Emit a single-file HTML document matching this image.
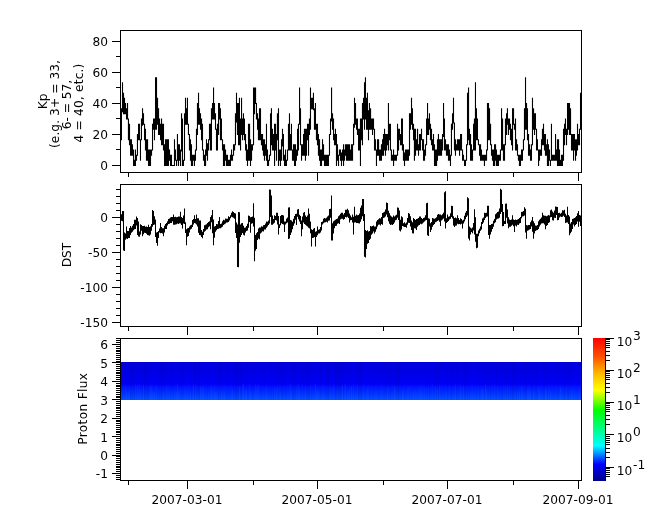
<!DOCTYPE html>
<html lang="en"><head><meta charset="utf-8"><title>Kp, DST, Proton Flux</title>
<style>
html,body{margin:0;padding:0;background:#fff;}
body{width:665px;height:523px;overflow:hidden;}
svg{display:block;}
.tx{opacity:0.999;}
text{font-family:"DejaVu Sans","Liberation Sans",sans-serif;font-size:12.2px;fill:#000;}
.ax{stroke:#000;stroke-width:1;fill:none;shape-rendering:crispEdges;}
.tr{fill:#000;stroke:#000;stroke-width:0.5;stroke-linejoin:round;}
</style></head><body>
<svg width="665" height="523" viewBox="0 0 665 523">
<defs>
<linearGradient id="cb" x1="0" y1="1" x2="0" y2="0">

<stop offset="0.0000" stop-color="rgb(0,0,137)"/>
<stop offset="0.1176" stop-color="rgb(0,0,255)"/>
<stop offset="0.2471" stop-color="rgb(0,255,255)"/>
<stop offset="0.4941" stop-color="rgb(0,255,0)"/>
<stop offset="0.6353" stop-color="rgb(255,255,0)"/>
<stop offset="0.7529" stop-color="rgb(255,185,0)"/>
<stop offset="0.8667" stop-color="rgb(255,84,0)"/>
<stop offset="1.0000" stop-color="rgb(255,0,0)"/>
</linearGradient>
<linearGradient id="sp" x1="0" y1="0" x2="0" y2="1">
<stop offset="0" stop-color="rgb(0,0,222)"/>
<stop offset="0.3" stop-color="rgb(0,0,232)"/>
<stop offset="0.58" stop-color="rgb(0,0,246)"/>
<stop offset="0.66" stop-color="rgb(0,22,255)"/>
<stop offset="0.82" stop-color="rgb(0,48,255)"/>
<stop offset="1" stop-color="rgb(4,80,255)"/>
</linearGradient>
</defs>

<rect x="0" y="0" width="665" height="523" fill="#fff"/>
<rect x="121" y="362" width="460" height="38" fill="url(#sp)"/>
<rect x="121" y="392" width="1" height="8" fill="rgb(40,110,255)" fill-opacity="0.07"/><rect x="122" y="362" width="1" height="38" fill="#000" fill-opacity="0.05"/><rect x="123" y="384" width="1" height="16" fill="rgb(40,110,255)" fill-opacity="0.06"/><rect x="124" y="362" width="1" height="38" fill="#000" fill-opacity="0.02"/><rect x="125" y="384" width="1" height="16" fill="rgb(40,110,255)" fill-opacity="0.08"/><rect x="126" y="391" width="1" height="9" fill="rgb(40,110,255)" fill-opacity="0.15"/><rect x="128" y="392" width="1" height="8" fill="rgb(40,110,255)" fill-opacity="0.12"/><rect x="129" y="389" width="1" height="11" fill="rgb(40,110,255)" fill-opacity="0.10"/><rect x="130" y="362" width="1" height="38" fill="#000" fill-opacity="0.06"/><rect x="131" y="362" width="1" height="38" fill="#000" fill-opacity="0.03"/><rect x="132" y="362" width="1" height="38" fill="#000" fill-opacity="0.04"/><rect x="134" y="362" width="1" height="38" fill="#000" fill-opacity="0.05"/><rect x="135" y="384" width="1" height="16" fill="rgb(40,110,255)" fill-opacity="0.09"/><rect x="137" y="385" width="1" height="15" fill="rgb(40,110,255)" fill-opacity="0.12"/><rect x="139" y="385" width="1" height="15" fill="rgb(40,110,255)" fill-opacity="0.09"/><rect x="140" y="390" width="1" height="10" fill="rgb(40,110,255)" fill-opacity="0.08"/><rect x="142" y="362" width="1" height="38" fill="#000" fill-opacity="0.05"/><rect x="143" y="385" width="1" height="15" fill="rgb(40,110,255)" fill-opacity="0.16"/><rect x="144" y="362" width="1" height="38" fill="#000" fill-opacity="0.07"/><rect x="145" y="362" width="1" height="38" fill="#000" fill-opacity="0.04"/><rect x="147" y="362" width="1" height="38" fill="#000" fill-opacity="0.04"/><rect x="148" y="362" width="1" height="38" fill="#000" fill-opacity="0.05"/><rect x="150" y="387" width="1" height="13" fill="rgb(40,110,255)" fill-opacity="0.16"/><rect x="151" y="385" width="1" height="15" fill="rgb(40,110,255)" fill-opacity="0.09"/><rect x="152" y="391" width="1" height="9" fill="rgb(40,110,255)" fill-opacity="0.10"/><rect x="154" y="392" width="1" height="8" fill="rgb(40,110,255)" fill-opacity="0.13"/><rect x="156" y="385" width="1" height="15" fill="rgb(40,110,255)" fill-opacity="0.12"/><rect x="157" y="362" width="1" height="38" fill="#000" fill-opacity="0.04"/><rect x="159" y="362" width="1" height="38" fill="#000" fill-opacity="0.04"/><rect x="160" y="362" width="1" height="38" fill="#000" fill-opacity="0.03"/><rect x="161" y="362" width="1" height="38" fill="#000" fill-opacity="0.06"/><rect x="162" y="362" width="1" height="38" fill="#000" fill-opacity="0.03"/><rect x="163" y="391" width="1" height="9" fill="rgb(40,110,255)" fill-opacity="0.15"/><rect x="164" y="362" width="1" height="38" fill="#000" fill-opacity="0.04"/><rect x="165" y="362" width="1" height="38" fill="#000" fill-opacity="0.03"/><rect x="166" y="386" width="1" height="14" fill="rgb(40,110,255)" fill-opacity="0.12"/><rect x="169" y="391" width="1" height="9" fill="rgb(40,110,255)" fill-opacity="0.08"/><rect x="170" y="362" width="1" height="38" fill="#000" fill-opacity="0.03"/><rect x="171" y="362" width="1" height="38" fill="#000" fill-opacity="0.04"/><rect x="172" y="392" width="1" height="8" fill="rgb(40,110,255)" fill-opacity="0.08"/><rect x="173" y="362" width="1" height="38" fill="#000" fill-opacity="0.05"/><rect x="174" y="390" width="1" height="10" fill="rgb(40,110,255)" fill-opacity="0.09"/><rect x="176" y="392" width="1" height="8" fill="rgb(40,110,255)" fill-opacity="0.12"/><rect x="177" y="384" width="1" height="16" fill="rgb(40,110,255)" fill-opacity="0.15"/><rect x="178" y="391" width="1" height="9" fill="rgb(40,110,255)" fill-opacity="0.10"/><rect x="179" y="389" width="1" height="11" fill="rgb(40,110,255)" fill-opacity="0.10"/><rect x="180" y="362" width="1" height="38" fill="#000" fill-opacity="0.03"/><rect x="181" y="362" width="1" height="38" fill="#000" fill-opacity="0.04"/><rect x="182" y="362" width="1" height="38" fill="#000" fill-opacity="0.02"/><rect x="183" y="362" width="1" height="38" fill="#000" fill-opacity="0.03"/><rect x="184" y="389" width="1" height="11" fill="rgb(40,110,255)" fill-opacity="0.05"/><rect x="185" y="388" width="1" height="12" fill="rgb(40,110,255)" fill-opacity="0.07"/><rect x="187" y="391" width="1" height="9" fill="rgb(40,110,255)" fill-opacity="0.11"/><rect x="190" y="391" width="1" height="9" fill="rgb(40,110,255)" fill-opacity="0.11"/><rect x="191" y="362" width="1" height="38" fill="#000" fill-opacity="0.06"/><rect x="193" y="384" width="1" height="16" fill="rgb(40,110,255)" fill-opacity="0.13"/><rect x="194" y="362" width="1" height="38" fill="#000" fill-opacity="0.07"/><rect x="195" y="384" width="1" height="16" fill="rgb(40,110,255)" fill-opacity="0.07"/><rect x="198" y="362" width="1" height="38" fill="#000" fill-opacity="0.05"/><rect x="199" y="362" width="1" height="38" fill="#000" fill-opacity="0.06"/><rect x="200" y="387" width="1" height="13" fill="rgb(40,110,255)" fill-opacity="0.16"/><rect x="202" y="387" width="1" height="13" fill="rgb(40,110,255)" fill-opacity="0.14"/><rect x="203" y="389" width="1" height="11" fill="rgb(40,110,255)" fill-opacity="0.12"/><rect x="207" y="362" width="1" height="38" fill="#000" fill-opacity="0.05"/><rect x="208" y="392" width="1" height="8" fill="rgb(40,110,255)" fill-opacity="0.05"/><rect x="210" y="387" width="1" height="13" fill="rgb(40,110,255)" fill-opacity="0.07"/><rect x="211" y="387" width="1" height="13" fill="rgb(40,110,255)" fill-opacity="0.16"/><rect x="213" y="389" width="1" height="11" fill="rgb(40,110,255)" fill-opacity="0.08"/><rect x="214" y="385" width="1" height="15" fill="rgb(40,110,255)" fill-opacity="0.09"/><rect x="215" y="392" width="1" height="8" fill="rgb(40,110,255)" fill-opacity="0.16"/><rect x="216" y="391" width="1" height="9" fill="rgb(40,110,255)" fill-opacity="0.13"/><rect x="218" y="362" width="1" height="38" fill="#000" fill-opacity="0.04"/><rect x="220" y="362" width="1" height="38" fill="#000" fill-opacity="0.06"/><rect x="221" y="391" width="1" height="9" fill="rgb(40,110,255)" fill-opacity="0.13"/><rect x="224" y="391" width="1" height="9" fill="rgb(40,110,255)" fill-opacity="0.10"/><rect x="226" y="362" width="1" height="38" fill="#000" fill-opacity="0.03"/><rect x="227" y="362" width="1" height="38" fill="#000" fill-opacity="0.07"/><rect x="229" y="362" width="1" height="38" fill="#000" fill-opacity="0.06"/><rect x="232" y="390" width="1" height="10" fill="rgb(40,110,255)" fill-opacity="0.12"/><rect x="233" y="362" width="1" height="38" fill="#000" fill-opacity="0.06"/><rect x="235" y="362" width="1" height="38" fill="#000" fill-opacity="0.06"/><rect x="236" y="362" width="1" height="38" fill="#000" fill-opacity="0.07"/><rect x="237" y="362" width="1" height="38" fill="#000" fill-opacity="0.06"/><rect x="238" y="362" width="1" height="38" fill="#000" fill-opacity="0.03"/><rect x="239" y="387" width="1" height="13" fill="rgb(40,110,255)" fill-opacity="0.14"/><rect x="240" y="362" width="1" height="38" fill="#000" fill-opacity="0.04"/><rect x="241" y="362" width="1" height="38" fill="#000" fill-opacity="0.07"/><rect x="242" y="384" width="1" height="16" fill="rgb(40,110,255)" fill-opacity="0.10"/><rect x="243" y="384" width="1" height="16" fill="rgb(40,110,255)" fill-opacity="0.16"/><rect x="244" y="362" width="1" height="38" fill="#000" fill-opacity="0.03"/><rect x="245" y="390" width="1" height="10" fill="rgb(40,110,255)" fill-opacity="0.15"/><rect x="246" y="390" width="1" height="10" fill="rgb(40,110,255)" fill-opacity="0.14"/><rect x="247" y="362" width="1" height="38" fill="#000" fill-opacity="0.04"/><rect x="249" y="384" width="1" height="16" fill="rgb(40,110,255)" fill-opacity="0.09"/><rect x="250" y="391" width="1" height="9" fill="rgb(40,110,255)" fill-opacity="0.11"/><rect x="252" y="362" width="1" height="38" fill="#000" fill-opacity="0.03"/><rect x="253" y="362" width="1" height="38" fill="#000" fill-opacity="0.02"/><rect x="254" y="391" width="1" height="9" fill="rgb(40,110,255)" fill-opacity="0.05"/><rect x="255" y="384" width="1" height="16" fill="rgb(40,110,255)" fill-opacity="0.12"/><rect x="256" y="388" width="1" height="12" fill="rgb(40,110,255)" fill-opacity="0.07"/><rect x="257" y="385" width="1" height="15" fill="rgb(40,110,255)" fill-opacity="0.11"/><rect x="258" y="384" width="1" height="16" fill="rgb(40,110,255)" fill-opacity="0.08"/><rect x="261" y="362" width="1" height="38" fill="#000" fill-opacity="0.05"/><rect x="264" y="362" width="1" height="38" fill="#000" fill-opacity="0.03"/><rect x="265" y="389" width="1" height="11" fill="rgb(40,110,255)" fill-opacity="0.06"/><rect x="266" y="388" width="1" height="12" fill="rgb(40,110,255)" fill-opacity="0.08"/><rect x="269" y="362" width="1" height="38" fill="#000" fill-opacity="0.06"/><rect x="271" y="362" width="1" height="38" fill="#000" fill-opacity="0.06"/><rect x="273" y="362" width="1" height="38" fill="#000" fill-opacity="0.07"/><rect x="274" y="389" width="1" height="11" fill="rgb(40,110,255)" fill-opacity="0.11"/><rect x="275" y="362" width="1" height="38" fill="#000" fill-opacity="0.04"/><rect x="276" y="389" width="1" height="11" fill="rgb(40,110,255)" fill-opacity="0.09"/><rect x="277" y="387" width="1" height="13" fill="rgb(40,110,255)" fill-opacity="0.06"/><rect x="278" y="362" width="1" height="38" fill="#000" fill-opacity="0.05"/><rect x="279" y="387" width="1" height="13" fill="rgb(40,110,255)" fill-opacity="0.05"/><rect x="280" y="391" width="1" height="9" fill="rgb(40,110,255)" fill-opacity="0.09"/><rect x="281" y="362" width="1" height="38" fill="#000" fill-opacity="0.07"/><rect x="282" y="362" width="1" height="38" fill="#000" fill-opacity="0.06"/><rect x="283" y="362" width="1" height="38" fill="#000" fill-opacity="0.03"/><rect x="285" y="362" width="1" height="38" fill="#000" fill-opacity="0.06"/><rect x="290" y="384" width="1" height="16" fill="rgb(40,110,255)" fill-opacity="0.11"/><rect x="291" y="391" width="1" height="9" fill="rgb(40,110,255)" fill-opacity="0.13"/><rect x="292" y="362" width="1" height="38" fill="#000" fill-opacity="0.06"/><rect x="293" y="362" width="1" height="38" fill="#000" fill-opacity="0.06"/><rect x="294" y="362" width="1" height="38" fill="#000" fill-opacity="0.02"/><rect x="295" y="362" width="1" height="38" fill="#000" fill-opacity="0.03"/><rect x="296" y="388" width="1" height="12" fill="rgb(40,110,255)" fill-opacity="0.08"/><rect x="298" y="384" width="1" height="16" fill="rgb(40,110,255)" fill-opacity="0.09"/><rect x="299" y="390" width="1" height="10" fill="rgb(40,110,255)" fill-opacity="0.16"/><rect x="300" y="362" width="1" height="38" fill="#000" fill-opacity="0.06"/><rect x="303" y="362" width="1" height="38" fill="#000" fill-opacity="0.03"/><rect x="305" y="389" width="1" height="11" fill="rgb(40,110,255)" fill-opacity="0.11"/><rect x="306" y="362" width="1" height="38" fill="#000" fill-opacity="0.05"/><rect x="307" y="362" width="1" height="38" fill="#000" fill-opacity="0.04"/><rect x="308" y="362" width="1" height="38" fill="#000" fill-opacity="0.03"/><rect x="309" y="362" width="1" height="38" fill="#000" fill-opacity="0.06"/><rect x="310" y="385" width="1" height="15" fill="rgb(40,110,255)" fill-opacity="0.07"/><rect x="311" y="362" width="1" height="38" fill="#000" fill-opacity="0.04"/><rect x="315" y="384" width="1" height="16" fill="rgb(40,110,255)" fill-opacity="0.16"/><rect x="316" y="389" width="1" height="11" fill="rgb(40,110,255)" fill-opacity="0.08"/><rect x="317" y="390" width="1" height="10" fill="rgb(40,110,255)" fill-opacity="0.15"/><rect x="318" y="392" width="1" height="8" fill="rgb(40,110,255)" fill-opacity="0.09"/><rect x="320" y="362" width="1" height="38" fill="#000" fill-opacity="0.05"/><rect x="322" y="386" width="1" height="14" fill="rgb(40,110,255)" fill-opacity="0.06"/><rect x="325" y="362" width="1" height="38" fill="#000" fill-opacity="0.03"/><rect x="326" y="362" width="1" height="38" fill="#000" fill-opacity="0.04"/><rect x="327" y="362" width="1" height="38" fill="#000" fill-opacity="0.04"/><rect x="328" y="362" width="1" height="38" fill="#000" fill-opacity="0.07"/><rect x="330" y="388" width="1" height="12" fill="rgb(40,110,255)" fill-opacity="0.08"/><rect x="331" y="362" width="1" height="38" fill="#000" fill-opacity="0.03"/><rect x="332" y="388" width="1" height="12" fill="rgb(40,110,255)" fill-opacity="0.06"/><rect x="333" y="384" width="1" height="16" fill="rgb(40,110,255)" fill-opacity="0.07"/><rect x="335" y="362" width="1" height="38" fill="#000" fill-opacity="0.06"/><rect x="336" y="362" width="1" height="38" fill="#000" fill-opacity="0.05"/><rect x="337" y="389" width="1" height="11" fill="rgb(40,110,255)" fill-opacity="0.09"/><rect x="338" y="362" width="1" height="38" fill="#000" fill-opacity="0.07"/><rect x="340" y="362" width="1" height="38" fill="#000" fill-opacity="0.06"/><rect x="342" y="385" width="1" height="15" fill="rgb(40,110,255)" fill-opacity="0.14"/><rect x="343" y="362" width="1" height="38" fill="#000" fill-opacity="0.06"/><rect x="344" y="384" width="1" height="16" fill="rgb(40,110,255)" fill-opacity="0.06"/><rect x="345" y="384" width="1" height="16" fill="rgb(40,110,255)" fill-opacity="0.14"/><rect x="346" y="362" width="1" height="38" fill="#000" fill-opacity="0.05"/><rect x="347" y="392" width="1" height="8" fill="rgb(40,110,255)" fill-opacity="0.15"/><rect x="349" y="389" width="1" height="11" fill="rgb(40,110,255)" fill-opacity="0.16"/><rect x="350" y="362" width="1" height="38" fill="#000" fill-opacity="0.02"/><rect x="351" y="386" width="1" height="14" fill="rgb(40,110,255)" fill-opacity="0.17"/><rect x="353" y="384" width="1" height="16" fill="rgb(40,110,255)" fill-opacity="0.13"/><rect x="355" y="391" width="1" height="9" fill="rgb(40,110,255)" fill-opacity="0.05"/><rect x="357" y="384" width="1" height="16" fill="rgb(40,110,255)" fill-opacity="0.11"/><rect x="358" y="362" width="1" height="38" fill="#000" fill-opacity="0.06"/><rect x="359" y="362" width="1" height="38" fill="#000" fill-opacity="0.02"/><rect x="360" y="362" width="1" height="38" fill="#000" fill-opacity="0.06"/><rect x="361" y="362" width="1" height="38" fill="#000" fill-opacity="0.06"/><rect x="363" y="385" width="1" height="15" fill="rgb(40,110,255)" fill-opacity="0.10"/><rect x="365" y="362" width="1" height="38" fill="#000" fill-opacity="0.02"/><rect x="366" y="390" width="1" height="10" fill="rgb(40,110,255)" fill-opacity="0.07"/><rect x="367" y="388" width="1" height="12" fill="rgb(40,110,255)" fill-opacity="0.13"/><rect x="368" y="385" width="1" height="15" fill="rgb(40,110,255)" fill-opacity="0.07"/><rect x="369" y="362" width="1" height="38" fill="#000" fill-opacity="0.03"/><rect x="373" y="362" width="1" height="38" fill="#000" fill-opacity="0.05"/><rect x="374" y="391" width="1" height="9" fill="rgb(40,110,255)" fill-opacity="0.11"/><rect x="376" y="391" width="1" height="9" fill="rgb(40,110,255)" fill-opacity="0.09"/><rect x="378" y="362" width="1" height="38" fill="#000" fill-opacity="0.04"/><rect x="381" y="389" width="1" height="11" fill="rgb(40,110,255)" fill-opacity="0.08"/><rect x="384" y="362" width="1" height="38" fill="#000" fill-opacity="0.02"/><rect x="386" y="362" width="1" height="38" fill="#000" fill-opacity="0.04"/><rect x="387" y="388" width="1" height="12" fill="rgb(40,110,255)" fill-opacity="0.13"/><rect x="390" y="362" width="1" height="38" fill="#000" fill-opacity="0.06"/><rect x="391" y="392" width="1" height="8" fill="rgb(40,110,255)" fill-opacity="0.05"/><rect x="394" y="386" width="1" height="14" fill="rgb(40,110,255)" fill-opacity="0.14"/><rect x="395" y="387" width="1" height="13" fill="rgb(40,110,255)" fill-opacity="0.09"/><rect x="396" y="362" width="1" height="38" fill="#000" fill-opacity="0.06"/><rect x="398" y="362" width="1" height="38" fill="#000" fill-opacity="0.07"/><rect x="401" y="362" width="1" height="38" fill="#000" fill-opacity="0.04"/><rect x="402" y="391" width="1" height="9" fill="rgb(40,110,255)" fill-opacity="0.17"/><rect x="403" y="388" width="1" height="12" fill="rgb(40,110,255)" fill-opacity="0.10"/><rect x="405" y="362" width="1" height="38" fill="#000" fill-opacity="0.02"/><rect x="407" y="388" width="1" height="12" fill="rgb(40,110,255)" fill-opacity="0.07"/><rect x="408" y="387" width="1" height="13" fill="rgb(40,110,255)" fill-opacity="0.09"/><rect x="410" y="386" width="1" height="14" fill="rgb(40,110,255)" fill-opacity="0.05"/><rect x="413" y="392" width="1" height="8" fill="rgb(40,110,255)" fill-opacity="0.14"/><rect x="415" y="390" width="1" height="10" fill="rgb(40,110,255)" fill-opacity="0.12"/><rect x="416" y="392" width="1" height="8" fill="rgb(40,110,255)" fill-opacity="0.08"/><rect x="418" y="386" width="1" height="14" fill="rgb(40,110,255)" fill-opacity="0.07"/><rect x="419" y="388" width="1" height="12" fill="rgb(40,110,255)" fill-opacity="0.09"/><rect x="420" y="385" width="1" height="15" fill="rgb(40,110,255)" fill-opacity="0.08"/><rect x="421" y="390" width="1" height="10" fill="rgb(40,110,255)" fill-opacity="0.10"/><rect x="422" y="384" width="1" height="16" fill="rgb(40,110,255)" fill-opacity="0.06"/><rect x="424" y="387" width="1" height="13" fill="rgb(40,110,255)" fill-opacity="0.08"/><rect x="426" y="389" width="1" height="11" fill="rgb(40,110,255)" fill-opacity="0.07"/><rect x="427" y="362" width="1" height="38" fill="#000" fill-opacity="0.03"/><rect x="428" y="387" width="1" height="13" fill="rgb(40,110,255)" fill-opacity="0.09"/><rect x="429" y="362" width="1" height="38" fill="#000" fill-opacity="0.05"/><rect x="432" y="384" width="1" height="16" fill="rgb(40,110,255)" fill-opacity="0.10"/><rect x="433" y="362" width="1" height="38" fill="#000" fill-opacity="0.03"/><rect x="435" y="387" width="1" height="13" fill="rgb(40,110,255)" fill-opacity="0.12"/><rect x="436" y="362" width="1" height="38" fill="#000" fill-opacity="0.05"/><rect x="437" y="389" width="1" height="11" fill="rgb(40,110,255)" fill-opacity="0.15"/><rect x="438" y="362" width="1" height="38" fill="#000" fill-opacity="0.06"/><rect x="439" y="386" width="1" height="14" fill="rgb(40,110,255)" fill-opacity="0.13"/><rect x="443" y="362" width="1" height="38" fill="#000" fill-opacity="0.02"/><rect x="446" y="392" width="1" height="8" fill="rgb(40,110,255)" fill-opacity="0.12"/><rect x="447" y="362" width="1" height="38" fill="#000" fill-opacity="0.07"/><rect x="449" y="385" width="1" height="15" fill="rgb(40,110,255)" fill-opacity="0.11"/><rect x="450" y="362" width="1" height="38" fill="#000" fill-opacity="0.03"/><rect x="451" y="362" width="1" height="38" fill="#000" fill-opacity="0.05"/><rect x="455" y="385" width="1" height="15" fill="rgb(40,110,255)" fill-opacity="0.14"/><rect x="456" y="362" width="1" height="38" fill="#000" fill-opacity="0.06"/><rect x="457" y="362" width="1" height="38" fill="#000" fill-opacity="0.03"/><rect x="458" y="388" width="1" height="12" fill="rgb(40,110,255)" fill-opacity="0.05"/><rect x="460" y="386" width="1" height="14" fill="rgb(40,110,255)" fill-opacity="0.11"/><rect x="462" y="362" width="1" height="38" fill="#000" fill-opacity="0.02"/><rect x="463" y="386" width="1" height="14" fill="rgb(40,110,255)" fill-opacity="0.12"/><rect x="464" y="362" width="1" height="38" fill="#000" fill-opacity="0.06"/><rect x="465" y="362" width="1" height="38" fill="#000" fill-opacity="0.05"/><rect x="467" y="362" width="1" height="38" fill="#000" fill-opacity="0.04"/><rect x="469" y="362" width="1" height="38" fill="#000" fill-opacity="0.05"/><rect x="470" y="386" width="1" height="14" fill="rgb(40,110,255)" fill-opacity="0.05"/><rect x="472" y="385" width="1" height="15" fill="rgb(40,110,255)" fill-opacity="0.05"/><rect x="474" y="389" width="1" height="11" fill="rgb(40,110,255)" fill-opacity="0.06"/><rect x="477" y="362" width="1" height="38" fill="#000" fill-opacity="0.02"/><rect x="478" y="386" width="1" height="14" fill="rgb(40,110,255)" fill-opacity="0.10"/><rect x="479" y="362" width="1" height="38" fill="#000" fill-opacity="0.06"/><rect x="481" y="389" width="1" height="11" fill="rgb(40,110,255)" fill-opacity="0.07"/><rect x="482" y="389" width="1" height="11" fill="rgb(40,110,255)" fill-opacity="0.15"/><rect x="483" y="388" width="1" height="12" fill="rgb(40,110,255)" fill-opacity="0.08"/><rect x="484" y="362" width="1" height="38" fill="#000" fill-opacity="0.05"/><rect x="485" y="385" width="1" height="15" fill="rgb(40,110,255)" fill-opacity="0.16"/><rect x="486" y="390" width="1" height="10" fill="rgb(40,110,255)" fill-opacity="0.13"/><rect x="488" y="362" width="1" height="38" fill="#000" fill-opacity="0.02"/><rect x="489" y="392" width="1" height="8" fill="rgb(40,110,255)" fill-opacity="0.10"/><rect x="490" y="362" width="1" height="38" fill="#000" fill-opacity="0.04"/><rect x="492" y="391" width="1" height="9" fill="rgb(40,110,255)" fill-opacity="0.06"/><rect x="494" y="384" width="1" height="16" fill="rgb(40,110,255)" fill-opacity="0.07"/><rect x="496" y="362" width="1" height="38" fill="#000" fill-opacity="0.05"/><rect x="497" y="387" width="1" height="13" fill="rgb(40,110,255)" fill-opacity="0.09"/><rect x="498" y="391" width="1" height="9" fill="rgb(40,110,255)" fill-opacity="0.06"/><rect x="499" y="362" width="1" height="38" fill="#000" fill-opacity="0.04"/><rect x="501" y="362" width="1" height="38" fill="#000" fill-opacity="0.07"/><rect x="502" y="362" width="1" height="38" fill="#000" fill-opacity="0.04"/><rect x="505" y="385" width="1" height="15" fill="rgb(40,110,255)" fill-opacity="0.06"/><rect x="506" y="362" width="1" height="38" fill="#000" fill-opacity="0.05"/><rect x="507" y="385" width="1" height="15" fill="rgb(40,110,255)" fill-opacity="0.09"/><rect x="508" y="362" width="1" height="38" fill="#000" fill-opacity="0.04"/><rect x="511" y="362" width="1" height="38" fill="#000" fill-opacity="0.02"/><rect x="512" y="362" width="1" height="38" fill="#000" fill-opacity="0.07"/><rect x="513" y="362" width="1" height="38" fill="#000" fill-opacity="0.06"/><rect x="515" y="392" width="1" height="8" fill="rgb(40,110,255)" fill-opacity="0.08"/><rect x="516" y="362" width="1" height="38" fill="#000" fill-opacity="0.06"/><rect x="517" y="392" width="1" height="8" fill="rgb(40,110,255)" fill-opacity="0.08"/><rect x="519" y="391" width="1" height="9" fill="rgb(40,110,255)" fill-opacity="0.15"/><rect x="520" y="362" width="1" height="38" fill="#000" fill-opacity="0.03"/><rect x="521" y="386" width="1" height="14" fill="rgb(40,110,255)" fill-opacity="0.16"/><rect x="525" y="362" width="1" height="38" fill="#000" fill-opacity="0.04"/><rect x="526" y="362" width="1" height="38" fill="#000" fill-opacity="0.07"/><rect x="527" y="390" width="1" height="10" fill="rgb(40,110,255)" fill-opacity="0.13"/><rect x="528" y="387" width="1" height="13" fill="rgb(40,110,255)" fill-opacity="0.09"/><rect x="529" y="391" width="1" height="9" fill="rgb(40,110,255)" fill-opacity="0.14"/><rect x="530" y="390" width="1" height="10" fill="rgb(40,110,255)" fill-opacity="0.10"/><rect x="531" y="362" width="1" height="38" fill="#000" fill-opacity="0.02"/><rect x="532" y="362" width="1" height="38" fill="#000" fill-opacity="0.05"/><rect x="533" y="391" width="1" height="9" fill="rgb(40,110,255)" fill-opacity="0.17"/><rect x="535" y="362" width="1" height="38" fill="#000" fill-opacity="0.02"/><rect x="536" y="362" width="1" height="38" fill="#000" fill-opacity="0.04"/><rect x="538" y="386" width="1" height="14" fill="rgb(40,110,255)" fill-opacity="0.08"/><rect x="539" y="389" width="1" height="11" fill="rgb(40,110,255)" fill-opacity="0.16"/><rect x="543" y="362" width="1" height="38" fill="#000" fill-opacity="0.06"/><rect x="544" y="362" width="1" height="38" fill="#000" fill-opacity="0.05"/><rect x="545" y="389" width="1" height="11" fill="rgb(40,110,255)" fill-opacity="0.14"/><rect x="546" y="389" width="1" height="11" fill="rgb(40,110,255)" fill-opacity="0.07"/><rect x="547" y="362" width="1" height="38" fill="#000" fill-opacity="0.06"/><rect x="548" y="386" width="1" height="14" fill="rgb(40,110,255)" fill-opacity="0.09"/><rect x="549" y="362" width="1" height="38" fill="#000" fill-opacity="0.03"/><rect x="550" y="391" width="1" height="9" fill="rgb(40,110,255)" fill-opacity="0.13"/><rect x="553" y="362" width="1" height="38" fill="#000" fill-opacity="0.04"/><rect x="557" y="362" width="1" height="38" fill="#000" fill-opacity="0.03"/><rect x="558" y="362" width="1" height="38" fill="#000" fill-opacity="0.03"/><rect x="560" y="387" width="1" height="13" fill="rgb(40,110,255)" fill-opacity="0.16"/><rect x="561" y="388" width="1" height="12" fill="rgb(40,110,255)" fill-opacity="0.07"/><rect x="564" y="362" width="1" height="38" fill="#000" fill-opacity="0.05"/><rect x="566" y="387" width="1" height="13" fill="rgb(40,110,255)" fill-opacity="0.05"/><rect x="567" y="362" width="1" height="38" fill="#000" fill-opacity="0.03"/><rect x="568" y="362" width="1" height="38" fill="#000" fill-opacity="0.05"/><rect x="570" y="362" width="1" height="38" fill="#000" fill-opacity="0.02"/><rect x="571" y="390" width="1" height="10" fill="rgb(40,110,255)" fill-opacity="0.13"/><rect x="572" y="392" width="1" height="8" fill="rgb(40,110,255)" fill-opacity="0.06"/><rect x="574" y="391" width="1" height="9" fill="rgb(40,110,255)" fill-opacity="0.06"/><rect x="577" y="362" width="1" height="38" fill="#000" fill-opacity="0.05"/><rect x="579" y="388" width="1" height="12" fill="rgb(40,110,255)" fill-opacity="0.08"/>
<path d="M121.44 108.2V140.2M122.50 82.3V112.3M123.51 92.7V114.3M124.51 97.8V114.3M125.56 103.0V114.3M126.52 108.2V119.5M127.54 103.0V119.5M128.45 118.5V140.2M129.51 123.7V145.3M130.53 139.2V155.7M131.45 139.2V155.7M132.45 144.3V155.7M133.53 149.5V166.0M134.55 159.8V166.0M135.45 149.5V166.0M136.52 154.7V160.8M137.46 134.0V155.7M138.53 123.7V140.2M139.52 123.7V140.2M140.47 139.2V160.8M141.47 118.5V140.2M142.53 108.2V125.7M143.50 113.3V124.7M144.53 123.7V140.2M145.49 128.8V150.5M146.48 139.2V160.8M147.56 139.2V160.8M148.52 149.5V166.0M149.50 149.5V166.0M150.50 149.5V166.0M151.53 149.5V155.7M152.52 123.7V150.5M153.55 118.5V129.8M154.49 118.5V140.2M155.54 77.2V129.8M156.52 77.2V129.8M157.54 97.8V124.7M158.54 108.2V135.0M159.54 118.5V135.0M160.55 123.7V140.2M161.55 118.5V145.3M162.52 123.7V145.3M163.50 123.7V150.5M164.53 144.3V166.0M165.54 139.2V166.0M166.49 139.2V166.0M167.49 139.2V166.0M168.46 139.2V166.0M169.53 149.5V160.8M170.56 154.7V166.0M171.49 154.7V166.0M172.46 165.0V166.0M173.46 165.0V166.0M174.49 139.2V166.0M175.48 149.5V160.8M176.56 159.8V166.0M177.45 134.0V160.8M178.48 144.3V166.0M179.45 144.3V160.8M180.52 149.5V166.0M181.53 113.3V151.5M182.46 118.5V166.0M183.45 159.8V166.0M184.50 113.3V160.8M185.51 97.8V124.7M186.55 108.2V124.7M187.44 97.8V124.7M188.45 123.7V135.0M189.46 134.0V150.5M190.47 139.2V160.8M191.47 144.3V166.0M192.53 154.7V166.0M193.51 154.7V160.8M194.47 154.7V166.0M195.46 149.5V160.8M196.47 128.8V150.5M197.46 103.0V135.0M198.53 92.7V124.7M199.48 108.2V124.7M200.51 113.3V129.8M201.54 118.5V140.2M202.50 123.7V150.5M203.47 149.5V160.8M204.55 154.7V166.0M205.55 149.5V166.0M206.48 139.2V155.7M207.51 143.3V160.8M208.55 139.2V150.5M209.50 123.7V140.2M210.47 123.7V150.5M211.45 108.2V150.5M212.55 103.0V119.5M213.54 87.5V119.5M214.49 103.0V119.5M215.50 113.3V129.8M216.50 128.8V150.5M217.47 123.7V150.5M218.56 103.0V135.0M219.52 103.0V119.5M220.47 108.2V140.2M221.44 118.5V140.2M222.50 139.2V150.5M223.48 144.3V166.0M224.54 144.3V166.0M225.53 149.5V160.8M226.51 154.7V166.0M227.46 154.7V166.0M228.46 159.8V166.0M229.48 159.8V166.0M230.47 154.7V166.0M231.54 149.5V160.8M232.50 154.7V160.8M233.52 144.3V155.7M234.56 144.3V150.5M235.47 113.3V145.3M236.50 92.7V122.6M237.46 103.0V135.0M238.53 103.0V145.3M239.44 97.8V145.3M240.54 118.5V150.5M241.54 97.8V135.0M242.54 118.5V140.2M243.45 113.3V135.0M244.47 118.5V140.2M245.53 134.0V150.5M246.45 144.3V160.8M247.50 149.5V166.0M248.50 123.7V160.8M249.55 123.7V160.8M250.51 139.2V166.0M251.54 144.3V160.8M252.48 144.3V150.5M253.53 87.5V145.3M254.49 87.5V114.3M255.55 87.5V104.0M256.45 103.0V119.5M257.54 113.3V129.8M258.47 118.5V140.2M259.51 108.2V140.2M260.50 108.2V140.2M261.46 134.0V145.3M262.54 134.0V150.5M263.48 139.2V155.7M264.48 139.2V160.8M265.45 144.3V155.7M266.48 123.7V160.8M267.50 149.5V166.0M268.53 159.8V166.0M269.48 154.7V160.8M270.52 113.3V155.7M271.45 108.2V145.3M272.49 128.8V150.5M273.50 134.0V150.5M274.56 123.7V166.0M275.54 123.7V150.5M276.52 134.0V160.8M277.44 113.3V140.2M278.49 108.2V166.0M279.53 149.5V160.8M280.47 149.5V166.0M281.51 139.2V160.8M282.49 128.8V146.4M283.44 134.0V160.8M284.56 154.7V166.0M285.54 149.5V166.0M286.46 159.8V166.0M287.51 149.5V160.8M288.47 123.7V150.5M289.49 113.3V150.5M290.50 134.0V150.5M291.48 123.7V150.5M292.48 149.5V160.8M293.49 144.3V160.8M294.52 144.3V166.0M295.47 144.3V166.0M296.46 149.5V160.8M297.53 128.8V155.7M298.48 123.7V150.5M299.55 87.5V124.7M300.51 108.2V145.3M301.53 144.3V160.8M302.48 144.3V155.7M303.54 134.0V155.7M304.45 128.8V155.7M305.46 128.8V160.8M306.45 128.8V155.7M307.52 123.7V140.2M308.52 123.7V155.7M309.46 118.5V135.0M310.49 87.5V129.8M311.54 97.8V109.2M312.51 97.8V109.2M313.45 92.7V110.2M314.47 108.2V129.8M315.46 103.0V129.8M316.45 123.7V140.2M317.49 123.7V145.3M318.45 134.0V155.7M319.55 139.2V160.8M320.49 149.5V166.0M321.50 149.5V166.0M322.52 139.2V160.8M323.53 144.3V160.8M324.54 154.7V166.0M325.49 154.7V166.0M326.48 154.7V166.0M327.49 154.7V166.0M328.44 154.7V166.0M329.49 134.0V155.7M330.52 118.5V135.0M331.56 87.5V121.6M332.53 113.3V129.8M333.52 118.5V140.2M334.51 134.0V145.3M335.44 128.8V145.3M336.48 134.0V166.0M337.48 144.3V160.8M338.52 154.7V166.0M339.45 149.5V155.7M340.49 149.5V160.8M341.50 152.6V166.0M342.53 149.5V160.8M343.54 144.3V166.0M344.51 149.5V160.8M345.46 144.3V155.7M346.53 144.3V160.8M347.55 144.3V160.8M348.51 144.3V160.8M349.48 144.3V160.8M350.50 149.5V160.8M351.46 144.3V160.8M352.53 144.3V160.8M353.56 123.7V145.3M354.50 97.8V127.8M355.53 103.0V124.7M356.54 118.5V129.8M357.46 118.5V135.0M358.55 128.8V150.5M359.52 128.8V150.5M360.46 118.5V166.0M361.45 118.5V140.2M362.47 103.0V145.3M363.51 97.8V119.5M364.52 82.3V129.8M365.48 77.2V119.5M366.55 97.8V129.8M367.48 92.7V129.8M368.50 110.2V140.2M369.45 103.0V129.8M370.56 108.2V129.8M371.46 118.5V129.8M372.55 118.5V135.0M373.51 118.5V129.8M374.51 128.8V150.5M375.51 139.2V150.5M376.47 149.5V166.0M377.55 139.2V155.7M378.56 139.2V155.7M379.54 149.5V160.8M380.51 149.5V160.8M381.45 144.3V160.8M382.54 139.2V155.7M383.47 134.0V155.7M384.55 128.8V150.5M385.47 134.0V155.7M386.51 134.0V150.5M387.54 134.0V145.3M388.46 103.0V150.5M389.51 123.7V140.2M390.45 123.7V150.5M391.44 149.5V160.8M392.46 154.7V160.8M393.56 149.5V166.0M394.55 154.7V160.8M395.52 154.7V160.8M396.48 154.7V160.8M397.52 123.7V155.7M398.53 128.8V150.5M399.49 128.8V140.2M400.51 134.0V145.3M401.54 118.5V145.3M402.44 118.5V150.5M403.46 144.3V160.8M404.50 152.6V166.0M405.46 149.5V160.8M406.49 149.5V160.8M407.51 149.5V160.8M408.46 149.5V160.8M409.50 113.3V155.7M410.47 113.3V129.8M411.51 97.8V124.7M412.48 108.2V129.8M413.52 123.7V140.2M414.44 128.8V160.8M415.52 128.8V155.7M416.46 139.2V150.5M417.56 128.8V150.5M418.51 144.3V155.7M419.50 134.0V150.5M420.49 134.0V150.5M421.51 128.8V140.2M422.52 139.2V150.5M423.53 139.2V160.8M424.53 149.5V160.8M425.50 144.3V155.7M426.56 118.5V145.3M427.54 103.0V135.0M428.54 118.5V135.0M429.49 113.3V129.8M430.49 123.7V140.2M431.51 128.8V145.3M432.55 139.2V150.5M433.50 134.0V150.5M434.50 144.3V166.0M435.49 149.5V166.0M436.55 149.5V166.0M437.48 139.2V160.8M438.45 134.0V155.7M439.53 139.2V155.7M440.55 139.2V155.7M441.53 139.2V155.7M442.51 134.0V150.5M443.53 103.0V137.1M444.48 118.5V150.5M445.51 139.2V150.5M446.45 144.3V155.7M447.45 144.3V155.7M448.49 144.3V160.8M449.50 149.5V160.8M450.49 154.7V166.0M451.45 123.7V155.7M452.52 113.3V129.8M453.50 97.8V123.6M454.47 122.6V150.5M455.48 139.2V155.7M456.49 144.3V150.5M457.47 139.2V150.5M458.45 139.2V150.5M459.55 139.2V155.7M460.56 134.0V150.5M461.52 134.0V150.5M462.54 149.5V160.8M463.49 154.7V160.8M464.54 159.8V166.0M465.47 159.8V166.0M466.53 144.3V160.8M467.51 92.7V145.3M468.55 87.5V140.2M469.45 128.8V145.3M470.54 134.0V160.8M471.45 144.3V160.8M472.50 149.5V160.8M473.55 123.7V150.5M474.44 118.5V150.5M475.47 82.3V150.5M476.48 108.2V140.2M477.48 118.5V140.2M478.45 139.2V145.3M479.55 144.3V155.7M480.54 144.3V160.8M481.49 149.5V160.8M482.48 154.7V160.8M483.51 154.7V160.8M484.45 154.7V166.0M485.44 154.7V160.8M486.55 149.5V160.8M487.48 103.0V150.5M488.50 103.0V140.2M489.55 108.2V140.2M490.56 123.7V145.3M491.50 144.3V155.7M492.46 149.5V160.8M493.48 149.5V166.0M494.55 144.3V166.0M495.55 144.3V160.8M496.46 149.5V166.0M497.54 154.7V166.0M498.48 154.7V166.0M499.50 154.7V160.8M500.46 149.5V160.8M501.55 108.2V150.5M502.56 118.5V150.5M503.46 144.3V160.8M504.52 144.3V160.8M505.46 118.5V145.3M506.55 113.3V135.0M507.45 108.2V124.7M508.45 118.5V135.0M509.53 118.5V129.8M510.48 123.7V140.2M511.55 128.8V145.3M512.54 108.2V150.5M513.53 108.2V124.7M514.46 123.7V129.8M515.52 118.5V150.5M516.55 139.2V150.5M517.49 144.3V155.7M518.45 154.7V160.8M519.47 154.7V166.0M520.48 154.7V166.0M521.53 149.5V160.8M522.46 149.5V160.8M523.46 139.2V150.5M524.47 108.2V140.2M525.52 77.2V129.8M526.53 103.0V129.8M527.48 108.2V140.2M528.52 134.0V155.7M529.55 144.3V155.7M530.51 149.5V160.8M531.47 144.3V160.8M532.48 97.8V145.3M533.55 108.2V129.8M534.52 113.3V135.0M535.47 113.3V129.8M536.52 128.8V150.5M537.45 139.2V150.5M538.56 149.5V166.0M539.49 149.5V160.8M540.50 149.5V155.7M541.50 139.2V155.7M542.45 128.8V145.3M543.51 123.7V145.3M544.47 134.0V150.5M545.47 134.0V155.7M546.54 144.3V155.7M547.45 139.2V166.0M548.47 144.3V166.0M549.53 149.5V160.8M550.47 159.8V166.0M551.47 123.7V160.8M552.51 154.7V160.8M553.46 154.7V160.8M554.55 154.7V160.8M555.56 134.0V160.8M556.44 149.5V160.8M557.50 139.2V166.0M558.53 139.2V166.0M559.49 149.5V166.0M560.55 159.8V166.0M561.50 154.7V166.0M562.46 154.7V166.0M563.51 128.8V160.8M564.52 123.7V145.3M565.48 118.5V135.0M566.52 128.8V145.3M567.53 103.0V135.0M568.50 103.0V129.8M569.50 103.0V135.0M570.54 108.2V135.0M571.52 134.0V150.5M572.50 134.0V150.5M573.55 134.0V160.8M574.46 134.0V150.5M575.53 139.2V160.8M576.46 139.2V155.7M577.51 123.7V150.5M578.47 134.0V145.3M579.49 128.8V145.3M580.53 92.7V129.8" fill="none" stroke="#000" stroke-width="1.1"/>
<path d="M121.5 214.3V220.7M122.5 211.1V221.3M123.5 211.0V250.6M124.5 232.5V251.1M125.5 233.6V239.7M126.5 226.5V238.6M127.5 230.9V239.1M128.5 231.1V238.1M129.5 228.0V237.9M130.5 225.9V235.0M131.5 227.6V232.7M132.5 225.8V231.8M133.5 224.1V230.3M134.5 219.7V229.3M135.5 219.8V229.1M136.5 216.4V225.6M137.5 218.0V235.0M138.5 221.6V236.4M139.5 231.6V236.8M140.5 224.2V234.5M141.5 225.0V230.8M142.5 226.0V236.2M143.5 226.0V234.3M144.5 225.8V232.7M145.5 226.8V232.9M146.5 226.5V233.7M147.5 226.9V235.0M148.5 224.7V235.2M149.5 227.0V235.8M150.5 226.2V234.5M151.5 224.0V230.7M152.5 210.1V226.7M153.5 211.1V225.0M154.5 216.2V224.6M155.5 219.4V237.0M156.5 232.5V242.9M157.5 231.9V245.7M158.5 231.0V237.9M159.5 228.4V232.5M160.5 223.0V233.2M161.5 226.9V233.0M162.5 228.3V233.5M163.5 228.2V236.2M164.5 225.7V232.6M165.5 223.9V229.0M166.5 223.1V228.9M167.5 221.2V225.6M168.5 219.1V223.9M169.5 218.5V223.8M170.5 217.4V223.1M171.5 217.1V223.1M172.5 217.0V221.2M173.5 214.4V224.8M174.5 217.1V224.7M175.5 216.8V224.5M176.5 217.3V224.3M177.5 217.1V223.6M178.5 216.6V224.1M179.5 216.4V223.2M180.5 211.8V223.6M181.5 217.1V224.9M182.5 217.9V228.5M183.5 215.6V223.4M184.5 208.4V224.1M185.5 222.3V233.1M186.5 229.2V245.3M187.5 228.3V236.7M188.5 227.9V235.9M189.5 226.6V232.4M190.5 225.3V229.6M191.5 224.8V228.7M192.5 219.9V227.1M193.5 218.9V224.6M194.5 215.3V223.0M195.5 219.0V223.4M196.5 214.4V224.4M197.5 218.3V226.6M198.5 218.2V232.7M199.5 220.6V234.9M200.5 220.5V235.3M201.5 229.9V237.1M202.5 231.7V238.3M203.5 229.0V235.0M204.5 225.3V231.8M205.5 224.7V230.7M206.5 224.2V229.4M207.5 222.9V229.3M208.5 222.0V227.3M209.5 221.3V226.2M210.5 217.1V229.3M211.5 215.2V222.3M212.5 210.1V233.2M213.5 219.5V245.3M214.5 226.5V237.8M215.5 226.0V231.7M216.5 224.1V230.2M217.5 224.2V229.0M218.5 221.1V228.7M219.5 217.0V228.3M220.5 224.0V228.2M221.5 223.6V227.6M222.5 221.3V226.7M223.5 219.8V224.9M224.5 220.3V224.2M225.5 218.4V223.4M226.5 218.8V222.5M227.5 218.7V222.4M228.5 216.3V221.9M229.5 216.9V220.4M230.5 215.2V218.2M231.5 212.7V216.7M232.5 211.2V217.2M233.5 212.0V217.7M234.5 212.9V218.8M235.5 213.6V233.1M236.5 222.6V238.0M237.5 224.6V266.9M238.5 212.1V267.2M239.5 212.3V242.7M240.5 224.4V236.9M241.5 223.2V234.9M242.5 223.1V232.9M243.5 225.7V234.7M244.5 227.7V235.5M245.5 227.6V232.6M246.5 226.1V230.9M247.5 223.8V230.6M248.5 215.5V227.7M249.5 216.0V222.1M250.5 217.3V232.8M251.5 216.9V223.7M252.5 216.4V223.3M253.5 203.2V226.6M254.5 217.7V261.2M255.5 235.0V250.7M256.5 233.2V248.9M257.5 232.1V240.0M258.5 228.5V238.4M259.5 227.6V239.2M260.5 227.6V233.4M261.5 226.3V232.4M262.5 226.8V231.3M263.5 225.2V231.5M264.5 225.1V229.6M265.5 223.4V229.6M266.5 221.5V227.7M267.5 221.8V226.4M268.5 220.5V224.9M269.5 189.5V223.5M270.5 189.8V217.0M271.5 195.6V224.7M272.5 215.6V224.8M273.5 219.0V223.8M274.5 215.2V222.7M275.5 216.1V220.0M276.5 212.7V220.6M277.5 212.8V224.6M278.5 215.9V234.5M279.5 224.3V228.1M280.5 215.9V225.3M281.5 214.9V223.3M282.5 215.1V224.1M283.5 215.6V224.5M284.5 221.5V231.9M285.5 221.5V224.4M286.5 218.7V223.2M287.5 217.5V222.6M288.5 207.5V238.9M289.5 207.3V238.5M290.5 220.0V234.9M291.5 220.6V232.5M292.5 221.7V229.2M293.5 218.8V225.7M294.5 216.1V223.6M295.5 213.9V219.8M296.5 213.8V225.0M297.5 209.4V216.7M298.5 209.1V219.2M299.5 214.8V221.4M300.5 216.0V224.0M301.5 220.5V236.2M302.5 216.4V229.2M303.5 212.8V222.5M304.5 211.9V224.1M305.5 215.6V224.7M306.5 217.0V225.8M307.5 215.4V226.5M308.5 208.4V227.7M309.5 213.8V228.5M310.5 221.5V233.3M311.5 229.3V246.5M312.5 230.1V238.0M313.5 228.7V237.7M314.5 228.1V237.0M315.5 231.8V246.5M316.5 231.2V237.0M317.5 226.5V235.3M318.5 229.7V233.6M319.5 229.2V233.5M320.5 227.0V232.4M321.5 222.0V230.4M322.5 221.6V224.6M323.5 218.8V223.3M324.5 218.0V222.5M325.5 218.5V222.2M326.5 217.7V221.7M327.5 216.5V222.6M328.5 215.6V220.7M329.5 209.0V220.5M330.5 208.7V217.7M331.5 195.5V240.5M332.5 223.2V240.5M333.5 221.2V233.5M334.5 220.4V228.3M335.5 219.7V226.0M336.5 219.0V225.7M337.5 218.4V223.8M338.5 216.2V223.3M339.5 215.3V224.1M340.5 213.7V219.6M341.5 212.7V218.7M342.5 212.8V218.7M343.5 214.4V219.7M344.5 212.9V219.1M345.5 209.7V217.0M346.5 209.7V217.4M347.5 208.8V216.8M348.5 210.3V218.0M349.5 213.5V222.4M350.5 215.4V220.2M351.5 217.2V220.1M352.5 214.4V222.6M353.5 216.8V234.5M354.5 206.7V222.4M355.5 215.8V222.3M356.5 214.5V223.0M357.5 215.3V223.1M358.5 215.0V223.2M359.5 213.6V223.6M360.5 207.7V221.7M361.5 205.5V219.3M362.5 199.0V216.2M363.5 199.1V221.1M364.5 214.0V256.7M365.5 230.1V257.4M366.5 231.1V248.9M367.5 230.3V243.7M368.5 231.4V243.0M369.5 231.0V240.1M370.5 225.9V238.8M371.5 226.4V234.8M372.5 225.9V233.5M373.5 225.5V231.5M374.5 226.4V233.6M375.5 226.5V231.7M376.5 221.5V229.3M377.5 219.9V226.6M378.5 219.2V224.7M379.5 218.3V224.6M380.5 218.4V225.5M381.5 217.0V224.1M382.5 212.9V224.7M383.5 212.6V217.9M384.5 211.8V217.6M385.5 209.6V216.4M386.5 202.4V214.6M387.5 202.9V217.2M388.5 210.8V221.2M389.5 213.3V223.7M390.5 215.4V224.9M391.5 216.4V224.4M392.5 217.3V224.9M393.5 215.6V224.1M394.5 216.6V222.4M395.5 215.6V220.2M396.5 214.8V219.8M397.5 207.6V217.8M398.5 207.8V220.1M399.5 210.6V230.4M400.5 219.7V231.5M401.5 216.3V229.5M402.5 217.2V226.0M403.5 223.2V226.5M404.5 222.2V226.9M405.5 223.6V226.9M406.5 222.6V227.7M407.5 217.9V224.8M408.5 213.1V222.7M409.5 213.7V223.0M410.5 216.3V226.4M411.5 220.5V230.1M412.5 222.3V233.2M413.5 218.0V233.5M414.5 219.0V228.3M415.5 220.1V228.6M416.5 219.0V230.1M417.5 218.7V226.7M418.5 218.1V225.5M419.5 216.6V224.9M420.5 216.6V223.8M421.5 217.9V224.3M422.5 218.9V223.4M423.5 217.9V222.6M424.5 217.5V221.4M425.5 215.2V220.4M426.5 203.2V219.9M427.5 202.7V235.2M428.5 218.3V236.0M429.5 218.8V226.5M430.5 223.3V231.9M431.5 222.1V229.8M432.5 217.9V226.7M433.5 218.5V225.0M434.5 218.8V224.0M435.5 218.3V222.3M436.5 217.3V221.7M437.5 214.7V221.1M438.5 214.0V220.3M439.5 214.4V221.7M440.5 214.6V225.9M441.5 215.3V220.6M442.5 214.2V219.6M443.5 212.7V218.4M444.5 192.3V221.5M445.5 191.3V228.5M446.5 218.2V223.0M447.5 214.4V221.9M448.5 216.7V221.0M449.5 216.2V219.6M450.5 213.3V218.7M451.5 205.7V217.1M452.5 205.9V218.5M453.5 216.2V225.6M454.5 217.9V226.9M455.5 217.6V225.7M456.5 218.3V225.6M457.5 215.3V223.8M458.5 218.1V224.3M459.5 220.0V224.1M460.5 218.2V224.6M461.5 219.0V223.8M462.5 220.6V228.5M463.5 219.7V223.4M464.5 215.8V221.4M465.5 212.8V219.3M466.5 211.0V217.1M467.5 197.3V215.5M468.5 198.3V238.5M469.5 226.6V240.5M470.5 227.7V234.5M471.5 228.4V232.0M472.5 227.4V233.2M473.5 223.0V230.4M474.5 209.3V234.6M475.5 217.2V241.8M476.5 233.7V248.2M477.5 233.7V247.8M478.5 230.5V236.2M479.5 228.7V233.3M480.5 226.6V230.8M481.5 222.1V229.4M482.5 218.5V224.0M483.5 217.4V222.6M484.5 212.7V220.1M485.5 213.0V218.0M486.5 212.8V216.8M487.5 205.7V216.4M488.5 205.8V235.0M489.5 225.0V238.8M490.5 225.1V234.5M491.5 224.0V231.8M492.5 223.8V229.0M493.5 220.7V226.8M494.5 218.9V223.3M495.5 214.3V222.2M496.5 213.3V219.6M497.5 212.1V218.7M498.5 211.6V218.5M499.5 208.4V217.7M500.5 188.8V213.9M501.5 189.7V211.9M502.5 204.0V226.3M503.5 212.0V225.9M504.5 221.1V224.1M505.5 203.7V223.9M506.5 203.5V217.8M507.5 209.6V223.4M508.5 217.2V228.2M509.5 219.5V226.7M510.5 219.9V226.7M511.5 219.4V225.7M512.5 215.3V224.8M513.5 219.6V226.2M514.5 220.1V231.9M515.5 219.4V225.6M516.5 219.9V226.4M517.5 219.4V224.7M518.5 218.9V225.0M519.5 218.0V223.5M520.5 216.9V223.1M521.5 212.1V218.3M522.5 211.8V216.4M523.5 211.0V216.3M524.5 207.3V215.4M525.5 208.7V232.4M526.5 224.9V238.8M527.5 225.5V230.8M528.5 225.0V230.2M529.5 224.9V229.6M530.5 222.3V229.1M531.5 220.6V226.6M532.5 217.0V231.7M533.5 221.2V238.8M534.5 223.2V233.6M535.5 225.6V230.9M536.5 225.7V230.2M537.5 225.0V229.9M538.5 221.2V229.0M539.5 219.7V226.6M540.5 218.8V224.8M541.5 217.5V223.6M542.5 212.7V223.3M543.5 215.3V223.2M544.5 215.8V224.4M545.5 215.7V229.3M546.5 216.3V226.0M547.5 215.7V225.0M548.5 215.0V223.0M549.5 215.6V222.3M550.5 210.2V217.3M551.5 209.6V217.1M552.5 211.6V220.3M553.5 212.7V220.5M554.5 210.6V217.8M555.5 206.4V218.1M556.5 206.8V214.9M557.5 207.0V220.3M558.5 212.9V220.1M559.5 212.8V217.6M560.5 213.8V216.5M561.5 212.8V216.9M562.5 210.2V216.7M563.5 210.4V215.8M564.5 209.7V217.0M565.5 213.7V222.9M566.5 215.4V222.4M567.5 206.7V222.4M568.5 214.9V224.1M569.5 216.4V235.3M570.5 223.6V233.2M571.5 221.9V231.8M572.5 219.0V229.0M573.5 218.4V224.4M574.5 218.0V226.4M575.5 217.3V225.0M576.5 215.9V224.1M577.5 213.2V221.5M578.5 211.0V226.7M579.5 214.9V221.7M580.5 215.5V226.0" fill="none" stroke="#000" stroke-width="1.05"/>
<rect class="ax" x="120.5" y="30.5" width="461" height="142"/>
<rect class="ax" x="120.5" y="184.5" width="461" height="142"/>
<rect class="ax" x="120.5" y="338.5" width="461" height="142"/>
<rect x="593" y="338" width="12" height="143" fill="url(#cb)"/>
<path class="ax" d="M187.5 172V181M317.5 172V181M447.5 172V181M578.5 172V181M128.5 172V177M253.5 172V177M383.5 172V177M513.5 172V177M187.5 326V335M317.5 326V335M447.5 326V335M578.5 326V335M128.5 326V331M253.5 326V331M383.5 326V331M513.5 326V331M187.5 480V489M317.5 480V489M447.5 480V489M578.5 480V489M128.5 480V485M253.5 480V485M383.5 480V485M513.5 480V485M112 165.5H121M116 149.5H121M112 134.5H121M116 118.5H121M112 103.5H121M116 87.5H121M112 72.5H121M116 56.5H121M112 41.5H121M112 322.5H121M116 315.5H121M116 308.5H121M116 301.5H121M116 294.5H121M112 287.5H121M116 280.5H121M116 273.5H121M116 266.5H121M116 259.5H121M112 252.5H121M116 245.5H121M116 238.5H121M116 231.5H121M116 224.5H121M112 217.5H121M116 210.5H121M116 203.5H121M116 196.5H121M116 189.5H121M116 479.5H121M116 477.5H121M116 475.5H121M112 473.5H121M116 471.5H121M116 469.5H121M116 467.5H121M116 466.5H121M116 464.5H121M116 462.5H121M116 460.5H121M116 458.5H121M116 456.5H121M112 455.5H121M116 453.5H121M116 451.5H121M116 449.5H121M116 447.5H121M116 445.5H121M116 444.5H121M116 442.5H121M116 440.5H121M116 438.5H121M112 436.5H121M116 434.5H121M116 432.5H121M116 431.5H121M116 429.5H121M116 427.5H121M116 425.5H121M116 423.5H121M116 421.5H121M116 420.5H121M112 418.5H121M116 416.5H121M116 414.5H121M116 412.5H121M116 410.5H121M116 408.5H121M116 407.5H121M116 405.5H121M116 403.5H121M116 401.5H121M112 399.5H121M116 397.5H121M116 396.5H121M116 394.5H121M116 392.5H121M116 390.5H121M116 388.5H121M116 386.5H121M116 385.5H121M116 383.5H121M112 381.5H121M116 379.5H121M116 377.5H121M116 375.5H121M116 373.5H121M116 372.5H121M116 370.5H121M116 368.5H121M116 366.5H121M116 364.5H121M112 362.5H121M116 361.5H121M116 359.5H121M116 357.5H121M116 355.5H121M116 353.5H121M116 351.5H121M116 350.5H121M116 348.5H121M116 346.5H121M112 344.5H121M116 342.5H121M116 340.5H121M116 338.5H121M605.5 338V481M605 476.5H610M605 474.5H610M605 472.5H610M605 470.5H610M605 468.5H610M605 467.5H614M605 457.5H610M605 452.5H610M605 448.5H610M605 444.5H610M605 442.5H610M605 440.5H610M605 438.5H610M605 436.5H610M605 434.5H614M605 424.5H610M605 419.5H610M605 415.5H610M605 411.5H610M605 409.5H610M605 407.5H610M605 405.5H610M605 403.5H610M605 402.5H614M605 392.5H610M605 387.5H610M605 383.5H610M605 379.5H610M605 377.5H610M605 375.5H610M605 373.5H610M605 371.5H610M605 370.5H614M605 360.5H610M605 355.5H610M605 351.5H610M605 347.5H610M605 345.5H610M605 343.5H610M605 341.5H610M605 339.5H610M605 338.5H614"/>
<g class="tx">
<text x="108" y="169.9" text-anchor="end">0</text>
<text x="108" y="138.9" text-anchor="end">20</text>
<text x="108" y="107.9" text-anchor="end">40</text>
<text x="108" y="76.9" text-anchor="end">60</text>
<text x="108" y="45.9" text-anchor="end">80</text>
<text x="108" y="326.9" text-anchor="end">-150</text>
<text x="108" y="291.9" text-anchor="end">-100</text>
<text x="108" y="256.9" text-anchor="end">-50</text>
<text x="108" y="221.9" text-anchor="end">0</text>
<text x="108" y="478.3" text-anchor="end">-1</text>
<text x="108" y="459.9" text-anchor="end">0</text>
<text x="108" y="441.5" text-anchor="end">1</text>
<text x="108" y="423.0" text-anchor="end">2</text>
<text x="108" y="404.6" text-anchor="end">3</text>
<text x="108" y="386.2" text-anchor="end">4</text>
<text x="108" y="367.8" text-anchor="end">5</text>
<text x="108" y="349.3" text-anchor="end">6</text>
<text x="187" y="504" text-anchor="middle">2007-03-01</text>
<text x="317" y="504" text-anchor="middle">2007-05-01</text>
<text x="447" y="504" text-anchor="middle">2007-07-01</text>
<text x="578" y="504" text-anchor="middle">2007-09-01</text>
<text x="616.8" y="475.0">10<tspan dx="0.7" dy="-6.5">-1</tspan></text>
<text x="616.8" y="442.0">10<tspan dx="0.7" dy="-6.5">0</tspan></text>
<text x="616.8" y="410.0">10<tspan dx="0.7" dy="-6.5">1</tspan></text>
<text x="616.8" y="378.0">10<tspan dx="0.7" dy="-6.5">2</tspan></text>
<text x="616.8" y="346.0">10<tspan dx="0.7" dy="-6.5">3</tspan></text>
<text transform="translate(46.5,101.5) rotate(-90)" text-anchor="middle">Kp</text>
<text transform="translate(58.5,104.0) rotate(-90)" text-anchor="middle" style="letter-spacing:0.08px">(e.g. 3+ = 33,</text>
<text transform="translate(70.5,104.5) rotate(-90)" text-anchor="middle">6- = 57,</text>
<text transform="translate(82.5,103.0) rotate(-90)" text-anchor="middle" style="letter-spacing:0.19px">4 = 40, etc.)</text>
<text transform="translate(70.5,255) rotate(-90)" text-anchor="middle">DST</text>
<text transform="translate(86.5,408.7) rotate(-90)" text-anchor="middle" style="letter-spacing:0.31px">Proton Flux</text>
</g>
</svg></body></html>
